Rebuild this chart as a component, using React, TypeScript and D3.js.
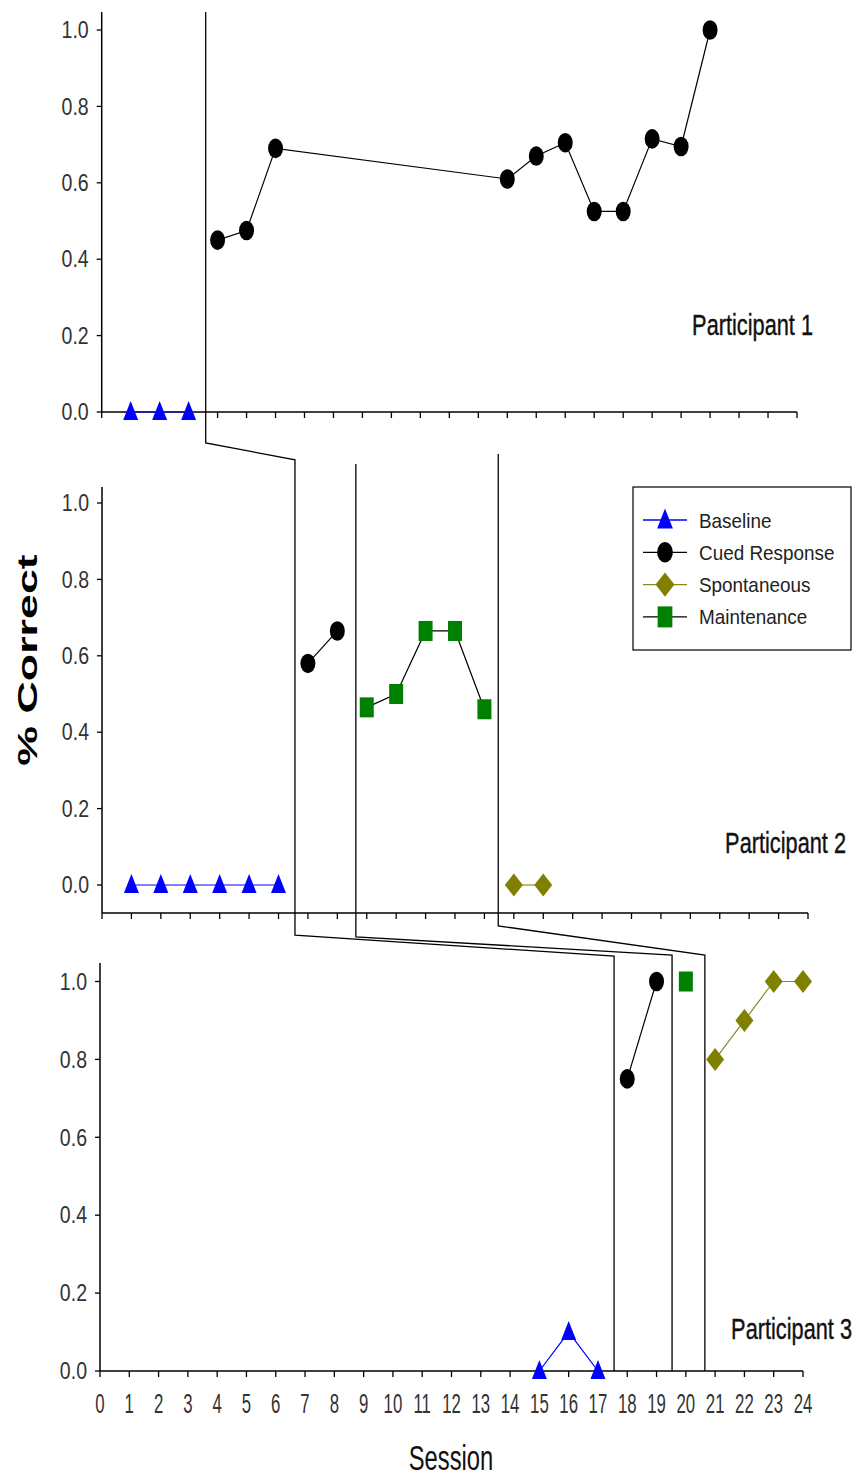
import React from "react";
import * as d3 from "d3";

// ---------- data ----------
const sessionTicks = d3.range(0, 25);
const yTicks = [0, 0.2, 0.4, 0.6, 0.8, 1.0];
const participants = ["Participant 1", "Participant 2", "Participant 3"];

const p1Baseline: [number, number][] = [[1, 0], [2, 0], [3, 0]];
const p1Cued: [number, number][] = [
  [4, 0.45], [5, 0.475], [6, 0.69], [14, 0.61], [15, 0.67], [16, 0.705],
  [17, 0.525], [18, 0.525], [19, 0.715], [20, 0.695], [21, 1.0],
];

const p2Baseline: [number, number][] = [[1, 0], [2, 0], [3, 0], [4, 0], [5, 0], [6, 0]];
const p2Cued: [number, number][] = [[7, 0.58], [8, 0.665]];
const p2Maint: [number, number][] = [[9, 0.465], [10, 0.5], [11, 0.665], [12, 0.665], [13, 0.46]];
const p2Spont: [number, number][] = [[14, 0], [15, 0]];

const p3Baseline: [number, number][] = [[15, 0], [16, 0.1], [17, 0]];
const p3Cued: [number, number][] = [[18, 0.75], [19, 1.0]];
const p3Maint: [number, number][] = [[20, 1.0]];
const p3Spont: [number, number][] = [[21, 0.8], [22, 0.9], [23, 1.0], [24, 1.0]];

const legendItems = ["Baseline", "Cued Response", "Spontaneous", "Maintenance"];

// phase-change lines: [panel, session, value]
const phaseLines: [number, number, number][][] = [
  [[0, 3.59, 1.047], [0, 3.59, -0.081], [1, 6.56, 1.113], [1, 6.56, -0.131], [2, 17.55, 1.065], [2, 17.55, 0]],
  [[1, 8.63, 1.102], [1, 8.63, -0.136], [2, 19.53, 1.068], [2, 19.53, 0]],
  [[1, 13.47, 1.128], [1, 13.47, -0.107], [2, 20.65, 1.068], [2, 20.65, 0]],
];

// ---------- styles / layout ----------
const FONT = "'Liberation Sans', Arial, sans-serif";
const styles: Record<string, { marker: string; fill: string; line: string; lw: number }> = {
  Baseline: { marker: "triangle", fill: "#0000ff", line: "#0000ff", lw: 1.2 },
  "Cued Response": { marker: "circle", fill: "#000000", line: "#000000", lw: 1.2 },
  Spontaneous: { marker: "diamond", fill: "#808000", line: "#8a8a20", lw: 1.2 },
  Maintenance: { marker: "square", fill: "#008000", line: "#000000", lw: 1.2 },
};

const layout = [
  { x0: 101.7, x1: 797, yZero: 412, yOne: 30, axisTop: 12, xAxisY: 412, lab: { x: 813, y: 335 } },
  { x0: 102, x1: 808, yZero: 885, yOne: 503, axisTop: 487, xAxisY: 913, lab: { x: 846, y: 853 } },
  { x0: 100, x1: 803, yZero: 1371, yOne: 981.5, axisTop: 963, xAxisY: 1371, lab: { x: 852, y: 1339 } },
];

const panelSeries: { key: string; data: [number, number][] }[][] = [
  [{ key: "Baseline", data: p1Baseline }, { key: "Cued Response", data: p1Cued }],
  [
    { key: "Baseline", data: p2Baseline },
    { key: "Cued Response", data: p2Cued },
    { key: "Maintenance", data: p2Maint },
    { key: "Spontaneous", data: p2Spont },
  ],
  [
    { key: "Baseline", data: p3Baseline },
    { key: "Cued Response", data: p3Cued },
    { key: "Maintenance", data: p3Maint },
    { key: "Spontaneous", data: p3Spont },
  ],
];

function Marker({ type, cx, cy, fill, k = 1 }: { type: string; cx: number; cy: number; fill: string; k?: number }) {
  if (type === "triangle") {
    const w = 15 * k, up = 11 * k, dn = 8 * k;
    return <path d={`M${cx},${cy - up}L${cx + w / 2},${cy + dn}L${cx - w / 2},${cy + dn}Z`} fill={fill} />;
  }
  if (type === "circle") {
    return <ellipse cx={cx} cy={cy} rx={7.5 * k} ry={9.8 * k} fill={fill} />;
  }
  if (type === "diamond") {
    const w = 18 * k, h = 23 * k;
    return <path d={`M${cx},${cy - h / 2}L${cx + w / 2},${cy}L${cx},${cy + h / 2}L${cx - w / 2},${cy}Z`} fill={fill} />;
  }
  const w = 14 * k, h = 20 * k;
  return <rect x={cx - w / 2} y={cy - h / 2} width={w} height={h} fill={fill} />;
}

export default function App() {
  const scales = layout.map((l) => ({
    x: d3.scaleLinear().domain([0, 24]).range([l.x0, l.x1]),
    y: d3.scaleLinear().domain([0, 1]).range([l.yZero, l.yOne]),
  }));

  return (
    <svg width={857} height={1479} style={{ display: "block", position: "absolute", left: 0, top: 0 }} fontFamily={FONT}>
      <rect width={857} height={1479} fill="#ffffff" />

      {/* phase change lines */}
      {phaseLines.map((pl, i) => {
        const pts = pl.map(([p, s, v]) => [scales[p].x(s), scales[p].y(v)] as [number, number]);
        return <path key={"ph" + i} d={d3.line()(pts) || ""} fill="none" stroke="#000" strokeWidth={1.3} />;
      })}

      {layout.map((l, pi) => {
        const { x, y } = scales[pi];
        const line = d3.line<[number, number]>().x((d) => x(d[0])).y((d) => y(d[1]));
        return (
          <g key={"panel" + pi}>
            {/* y axis */}
            <line x1={l.x0} x2={l.x0} y1={l.axisTop} y2={l.xAxisY} stroke="#000" strokeWidth={1.5} />
            {yTicks.map((t) => (
              <g key={"yt" + t}>
                <line x1={l.x0 - 5} x2={l.x0} y1={y(t)} y2={y(t)} stroke="#000" strokeWidth={1.3} />
                <text
                  transform={`translate(${l.x0 - 13},${y(t)}) scale(0.85,1)`}
                  textAnchor="end"
                  dy="0.36em"
                  fontSize={23}
                  fill="#333"
                >
                  {t.toFixed(1)}
                </text>
              </g>
            ))}
            {/* x axis */}
            <line x1={l.x0} x2={l.x1} y1={l.xAxisY} y2={l.xAxisY} stroke="#000" strokeWidth={1.5} />
            {sessionTicks.map((s) => (
              <line key={"xt" + s} x1={x(s)} x2={x(s)} y1={l.xAxisY} y2={l.xAxisY + 6} stroke="#000" strokeWidth={1.3} />
            ))}
            {pi === 2 &&
              sessionTicks.map((s) => (
                <text
                  key={"xl" + s}
                  transform={`translate(${x(s)},${1413}) scale(0.6,1)`}
                  textAnchor="middle"
                  fontSize={28}
                  fill="#333"
                >
                  {s}
                </text>
              ))}
            {/* series */}
            {panelSeries[pi].map((ser) => {
              const st = styles[ser.key];
              return (
                <g key={ser.key}>
                  {ser.data.length > 1 && (
                    <path d={line(ser.data) || ""} fill="none" stroke={st.line} strokeWidth={st.lw} />
                  )}
                  {ser.data.map((d, j) => (
                    <Marker key={j} type={st.marker} cx={x(d[0])} cy={y(d[1])} fill={st.fill} />
                  ))}
                </g>
              );
            })}
            {/* participant label */}
            <text
              transform={`translate(${l.lab.x},${l.lab.y}) scale(0.75,1)`}
              textAnchor="end"
              fontSize={29}
              fill="#111"
              stroke="#111"
              strokeWidth={0.4}
            >
              {participants[pi]}
            </text>
          </g>
        );
      })}

      {/* legend */}
      <rect x={633} y={487} width={218} height={163} fill="#fff" stroke="#000" strokeWidth={1.2} />
      {legendItems.map((name, i) => {
        const st = styles[name];
        const cy = 520 + i * 32.3;
        return (
          <g key={"lg" + name}>
            <line x1={643} x2={687} y1={cy} y2={cy} stroke={st.line} strokeWidth={1.3} />
            <Marker type={st.marker} cx={665} cy={cy} fill={st.fill} k={1.05} />
            <text transform={`translate(699,${cy}) scale(0.9,1)`} dy="0.36em" fontSize={21} fill="#222">
              {name}
            </text>
          </g>
        );
      })}

      {/* axis titles */}
      <text
        transform="translate(37,660) rotate(-90) scale(1.6,1)"
        textAnchor="middle"
        fontSize={28}
        fontWeight="bold"
        fill="#000"
      >
        % Correct
      </text>
      <text transform="translate(451,1470) scale(0.68,1)" textAnchor="middle" fontSize={35} fill="#111">
        Session
      </text>
    </svg>
  );
}
